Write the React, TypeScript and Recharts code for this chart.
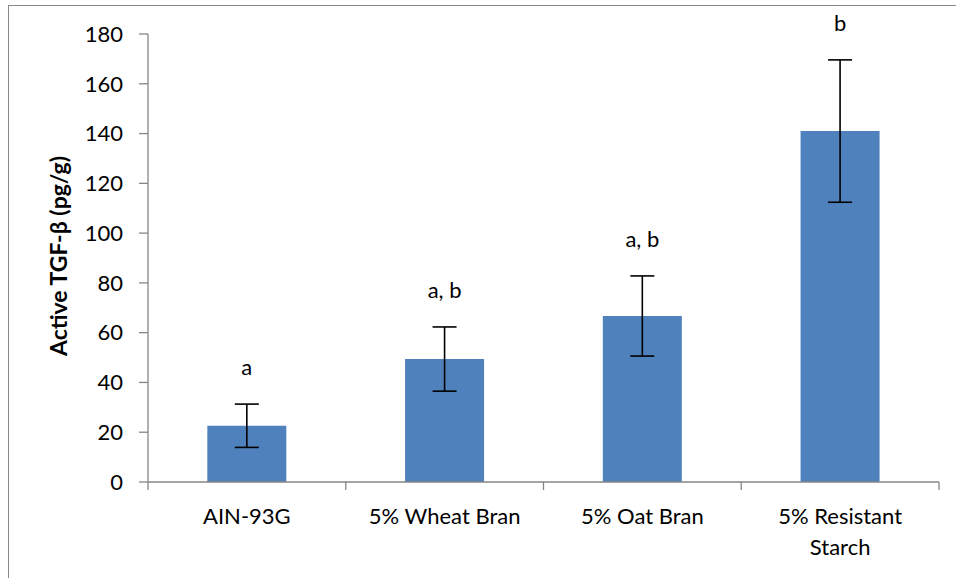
import React from 'react';
import { BarChart, Bar, XAxis, YAxis, ErrorBar, LabelList } from 'recharts';

// Active TGF-β by diet group (mean ± error)
const diets = ['AIN-93G', '5% Wheat Bran', '5% Oat Bran', '5% Resistant Starch'];
const tgfBeta = [22.6, 49.4, 66.7, 141.0];
const tgfBetaErr = [8.7, 12.9, 16.1, 28.6];
const groupLetters = ['a', 'a, b', 'a, b', 'b'];
const yTicks = [0, 20, 40, 60, 80, 100, 120, 140, 160, 180];

const data = diets.map((diet, i) => ({
  diet,
  value: tgfBeta[i],
  err: tgfBetaErr[i],
  letter: groupLetters[i],
}));

const WIDTH = 956;
const HEIGHT = 578;
const MARGIN = { top: 34, right: 17, bottom: 16, left: 0 };
const Y_AXIS_WIDTH = 148;
const X_AXIS_HEIGHT = 80;
const AXIS_COLOR = '#868686';
const FONT = 'Lato, "Noto Sans", sans-serif';
const FONT_SIZE = 22;
const MAX_LINE_CHARS = 14;
const LINE_HEIGHT = 31;

const PLOT_LEFT = MARGIN.left + Y_AXIS_WIDTH;
const PLOT_RIGHT = WIDTH - MARGIN.right;
const AXIS_Y = HEIGHT - MARGIN.bottom - X_AXIS_HEIGHT;
const BAND = (PLOT_RIGHT - PLOT_LEFT) / diets.length;

// Greedy word wrap for category names
const wrapWords = (text: string, maxChars: number) => {
  const lines: string[] = [];
  let current = '';
  text.split(' ').forEach((word) => {
    const next = current ? `${current} ${word}` : word;
    if (next.length > maxChars && current) {
      lines.push(current);
      current = word;
    } else {
      current = next;
    }
  });
  if (current) lines.push(current);
  return lines;
};

// Category label with boundary tick marks between categories
const DietTick = (props: any) => {
  const { x, payload, index } = props;
  const left = x - BAND / 2;
  const right = x + BAND / 2;
  const lines = wrapWords(String(payload.value), MAX_LINE_CHARS);
  return (
    <g>
      <line x1={left} y1={AXIS_Y} x2={left} y2={AXIS_Y + 8} stroke={AXIS_COLOR} strokeWidth={1.3} />
      {index === diets.length - 1 && (
        <line x1={right} y1={AXIS_Y} x2={right} y2={AXIS_Y + 8} stroke={AXIS_COLOR} strokeWidth={1.3} />
      )}
      <text textAnchor="middle" fontFamily={FONT} fontSize={FONT_SIZE} fill="#000">
        {lines.map((line, i) => (
          <tspan key={i} x={x} y={AXIS_Y + 42 + i * LINE_HEIGHT}>
            {line}
          </tspan>
        ))}
      </text>
    </g>
  );
};

// Significance letters above each error bar
const LetterLabel = (props: any) => {
  const { x, y, width, height, value, index } = props;
  const row = data[index];
  const pxPerUnit = height / row.value;
  const errTop = y - row.err * pxPerUnit;
  return (
    <text
      x={x + width / 2}
      y={errTop - 29}
      textAnchor="middle"
      fontFamily={FONT}
      fontSize={FONT_SIZE}
      fill="#000"
    >
      {value}
    </text>
  );
};

const YTitle = (props: any) => {
  const { viewBox } = props;
  const cx = 67;
  const cy = viewBox.y + viewBox.height / 2 - 2;
  return (
    <text
      x={cx}
      y={cy}
      transform={`rotate(-90 ${cx} ${cy})`}
      textAnchor="middle"
      fontFamily={FONT}
      fontWeight="bold"
      fontSize={23}
      fill="#000"
    >
      Active TGF-β (pg/g)
    </text>
  );
};

export default function App() {
  return (
    <div style={{ position: 'absolute', left: 0, top: 0, width: WIDTH, height: HEIGHT, background: '#fff' }}>
      <div
        style={{
          position: 'absolute',
          left: 8,
          top: 5,
          width: WIDTH - 8,
          height: HEIGHT - 5,
          borderLeft: '1.5px solid #888',
          borderTop: '1.5px solid #888',
          boxSizing: 'border-box',
        }}
      />
      <div style={{ position: 'absolute', left: 0, top: 0 }}>
        <BarChart width={WIDTH} height={HEIGHT} data={data} margin={MARGIN} barCategoryGap="30%">
          <XAxis
            dataKey="diet"
            height={X_AXIS_HEIGHT}
            axisLine={{ stroke: AXIS_COLOR, strokeWidth: 1.3 }}
            tickLine={false}
            tickSize={0}
            tick={<DietTick />}
            interval={0}
          />
          <YAxis
            width={Y_AXIS_WIDTH}
            domain={[0, 180]}
            ticks={yTicks}
            interval={0}
            axisLine={{ stroke: AXIS_COLOR, strokeWidth: 1.3 }}
            tickLine={{ stroke: AXIS_COLOR, strokeWidth: 1.3 }}
            tickSize={9}
            tickMargin={16}
            tick={{ fontFamily: FONT, fontSize: FONT_SIZE, fill: '#000' }}
            label={<YTitle />}
          />
          <Bar dataKey="value" fill="#4F81BD" isAnimationActive={false}>
            <ErrorBar dataKey="err" width={12} stroke="#000" strokeWidth={1.6} direction="y" />
            <LabelList dataKey="letter" content={<LetterLabel />} />
          </Bar>
        </BarChart>
      </div>
    </div>
  );
}
